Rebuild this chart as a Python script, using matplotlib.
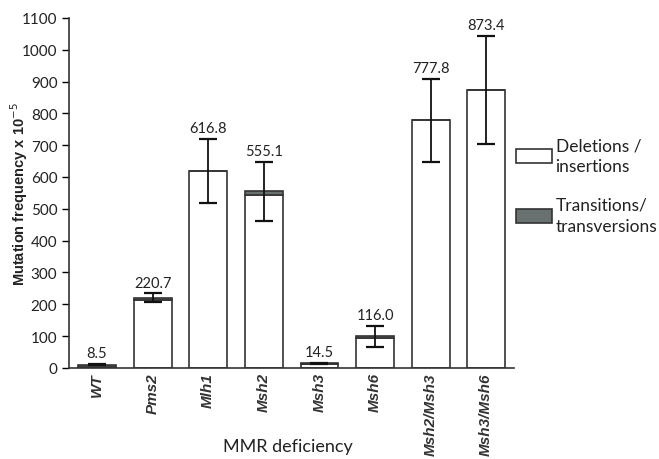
import numpy as np
import matplotlib
matplotlib.use('Agg')
import matplotlib.pyplot as plt

plt.rcParams['font.family'] = ['Lato', 'DejaVu Sans']

strains = ['WT', 'Pms2', 'Mlh1', 'Msh2', 'Msh3', 'Msh6', 'Msh2/Msh3', 'Msh3/Msh6']
deletions = [1.5, 212, 618, 542, 12, 95, 778, 874]
transitions = [8.5, 8, 0, 13, 3, 5, 0, 0]
errors = [1.5, 14, 101, 93, 2, 33, 130, 169]
labels = ['8.5', '220.7', '616.8', '555.1', '14.5', '116.0', '777.8', '873.4']

grey = '#687070'
edge = '#333333'

fig = plt.figure(figsize=(6.59, 4.6), dpi=100)
ax = fig.add_axes([0.105, 0.198, 0.675, 0.761])

x = np.arange(len(strains))
totals = np.array(deletions) + np.array(transitions)
w = 0.68
ax.bar(x, deletions, w, color='white', edgecolor=edge, linewidth=1.2,
       label='Deletions /\ninsertions', zorder=2)
ax.bar(x, transitions, w, bottom=deletions, color=grey, edgecolor=edge,
       linewidth=1.2, label='Transitions/\ntransversions', zorder=2)
ax.errorbar(x, totals, yerr=errors, fmt='none', ecolor='#111111',
            elinewidth=1.3, capsize=6.5, capthick=1.6, zorder=3)

for xi, t, e, lab in zip(x, totals, errors, labels):
    ax.text(xi, t + e + 12, lab, ha='center', va='bottom', fontsize=10.5,
            color='#222222')

ax.set_xlim(-0.5, 7.5)
ax.set_ylim(0, 1100)
ax.set_yticks(np.arange(0, 1101, 100))
ax.tick_params(axis='y', labelsize=11, length=5, width=1, direction='out',
               labelcolor='#222222')
ax.tick_params(axis='x', length=0, pad=3)
ax.set_xticks(x)
ax.set_xticklabels(strains, rotation=90, fontstyle='italic',
                   fontweight='bold', fontsize=11, color='#333333',
                   family=['Liberation Sans', 'DejaVu Sans'])
for s in ['top', 'right']:
    ax.spines[s].set_visible(False)
for s in ['left', 'bottom']:
    ax.spines[s].set_color('#333333')
    ax.spines[s].set_linewidth(1.2)

ax.set_ylabel('Mutation frequency x 10$^{-5}$', fontsize=10.5,
              fontweight='bold', color='#222222', va='center',
              family=['Liberation Sans', 'DejaVu Sans'])
ax.yaxis.set_label_coords(-0.112, 0.5)
fig.text(0.437, 0.028, 'MMR deficiency', ha='center', va='center',
         fontsize=13, color='#222222')

leg = ax.legend(loc='upper left', bbox_to_anchor=(0.772, 0.715),
                bbox_transform=fig.transFigure, frameon=False, fontsize=12.5,
                handlelength=2.1, handleheight=0.9, handletextpad=0.2,
                labelspacing=1.3, borderaxespad=0)
for t in leg.get_texts():
    t.set_linespacing(1.4)
    t.set_color('#222222')

fig.savefig('out.png', dpi=100)
